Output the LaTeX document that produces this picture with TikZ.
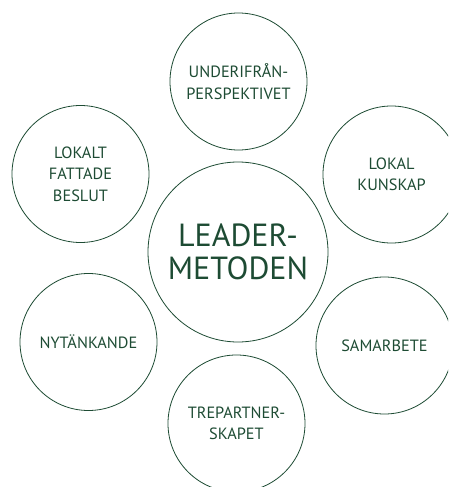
\documentclass[tikz,border=0pt]{standalone}
\usepackage{fontspec}
\setmainfont{PT Sans}
\definecolor{leadgreen}{HTML}{1D4B33}
\begin{document}
\begin{tikzpicture}[x=1pt,y=-1pt,
  bubble/.style={circle,draw=leadgreen,line width=0.8pt,minimum size=137pt,inner sep=0pt,
    text=leadgreen,align=center,font=\fontsize{16.3}{21.5}\selectfont},
  bigbubble/.style={bubble,minimum size=180pt,font=\fontsize{32}{33.5}\selectfont}]
\useasboundingbox (0,0) rectangle (448,487);
\clip (0,0) rectangle (448,487);
\node[bigbubble] (center) at (238,252) {LEADER-\\METODEN};
\node[bubble] (top) at (238.5,81.5) {UNDERIFRÅN-\\PERSPEKTIVET};
\node[bubble] (topleft) at (80.5,174) {LOKALT\\FATTADE\\BESLUT};
\node[bubble] (topright) at (391.5,174.5) {LOKAL\\KUNSKAP};
\node[bubble] (botleft) at (88.5,342) {NYTÄNKANDE};
\node[bubble] (botright) at (384.5,345.5) {SAMARBETE};
\node[bubble] (bottom) at (236.5,423.5) {TREPARTNER-\\SKAPET};
\end{tikzpicture}
\end{document}
